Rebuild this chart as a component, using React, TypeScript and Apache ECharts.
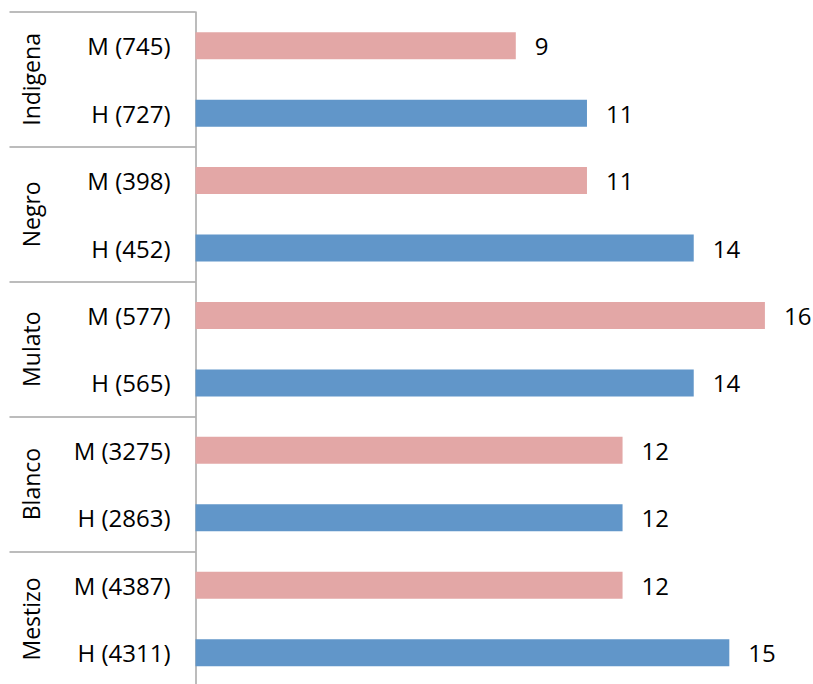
import React, { useEffect, useRef } from "react";
import * as echarts from "echarts";

const groups = ["Indigena", "Negro", "Mulato", "Blanco", "Mestizo"];
const categories = [
  "M (745)", "H (727)",
  "M (398)", "H (452)",
  "M (577)", "H (565)",
  "M (3275)", "H (2863)",
  "M (4387)", "H (4311)",
];
const values = [9, 11, 11, 14, 16, 14, 12, 12, 12, 15];
const colorM = "#E3A7A6";
const colorH = "#6196C9";

export default function App() {
  const ref = useRef<HTMLDivElement>(null);
  useEffect(() => {
    if (!ref.current) return;
    const chart = echarts.init(ref.current, null, { renderer: "svg" });
    const font = "'Open Sans', sans-serif";
    chart.setOption({
      animation: false,
      grid: { left: 195.5, top: 12, width: 605, height: 674.4 },
      xAxis: {
        type: "value",
        min: 0,
        max: 17,
        show: false,
      },
      yAxis: [
        {
          type: "category",
          data: categories,
          inverse: true,
          position: "left",
          axisLine: { show: true, lineStyle: { color: "#A6A6A6", width: 1.5 } },
          axisTick: { show: false },
          axisLabel: { margin: 25, color: "#000", fontSize: 24, fontFamily: font },
        },
        {
          type: "category",
          data: groups,
          inverse: true,
          position: "left",
          offset: 0,
          axisLine: { show: false },
          axisTick: { show: true, length: 186, lineStyle: { color: "#A6A6A6", width: 1.5 } },
          axisLabel: { rotate: 90, margin: 153, color: "#000", fontSize: 23, fontFamily: font },
        },
      ],
      series: [
        {
          type: "bar",
          yAxisIndex: 0,
          barWidth: 27,
          data: values.map((v, i) => ({
            value: v,
            itemStyle: { color: categories[i].startsWith("M") ? colorM : colorH },
          })),
          label: {
            show: true,
            position: "right",
            distance: 19,
            color: "#000",
            fontSize: 24,
            fontFamily: font,
          },
        },
      ],
    });
    return () => chart.dispose();
  }, []);
  return (
    <div
      ref={ref}
      style={{ position: "fixed", left: 0, top: 0, width: 813, height: 700, background: "#fff" }}
    />
  );
}
